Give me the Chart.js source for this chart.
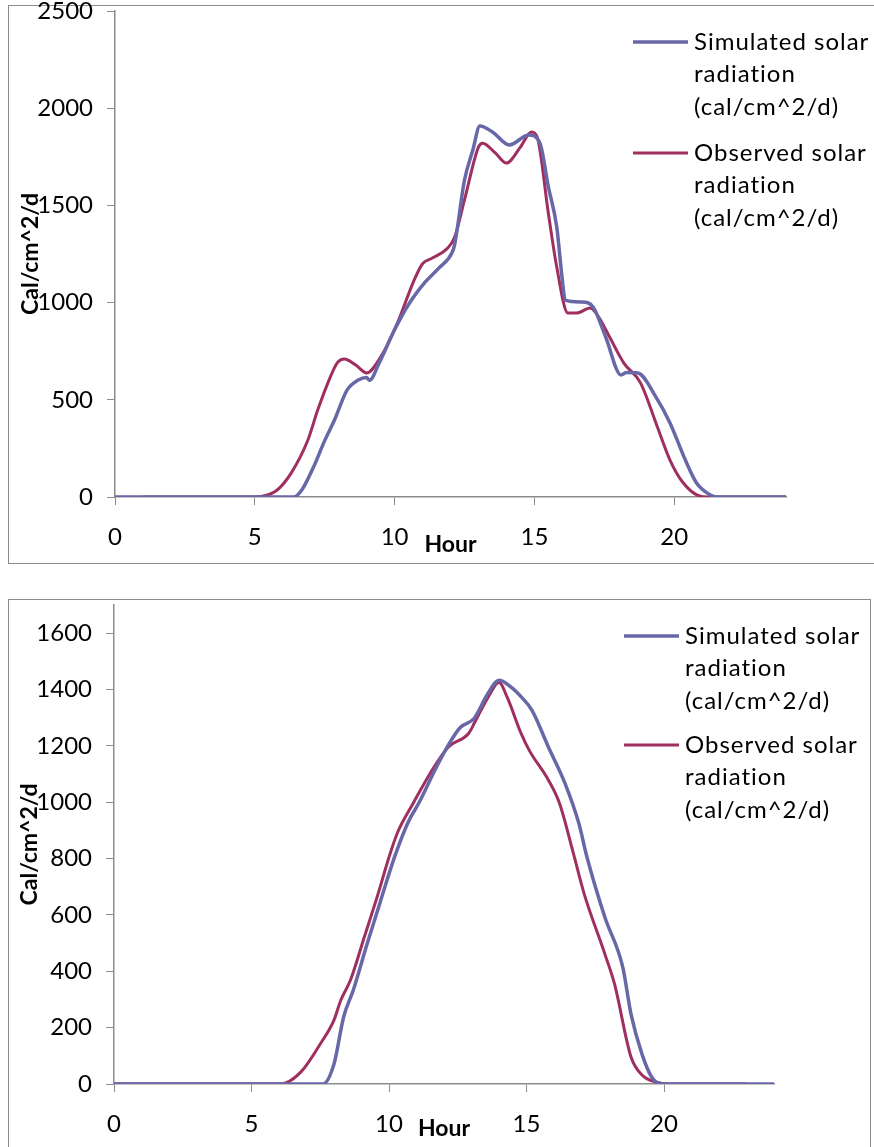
<!DOCTYPE html>
<html>
<head>
<meta charset="utf-8">
<script src="https://cdn.jsdelivr.net/npm/chart.js@4"></script>
<style>
    html, body { margin: 0; padding: 0; background: #fff; overflow: hidden; }
    body { width: 874px; height: 1147px; position: relative; }
    .frame { position: absolute; border: 1.5px solid #8c8c8c; box-sizing: border-box; }
    canvas { position: absolute; left: 0; }
</style>
</head>
<body>
<div class="frame" style="left:8px; top:5px; width:880px; height:559px;"></div>
<div class="frame" style="left:8px; top:599px; width:863px; height:600px;"></div>
<canvas id="topChart" width="874" height="570" style="top:0"></canvas>
<canvas id="bottomChart" width="874" height="577" style="top:570px"></canvas>
<script>
// ---- data ----
const hourTicks = [0, 5, 10, 15, 20];

// top chart
const topSimHours = [0, 6.4, 6.7, 7.1, 7.5, 7.85, 8.3, 8.7, 9.0, 9.1, 9.45, 10.0, 10.5, 11.1, 11.6, 12.05, 12.15, 12.5, 12.8, 13.05, 13.5, 14.1, 14.8, 15.2, 15.5, 15.8, 16.0, 16.1, 16.7, 17.1, 17.55, 18.1, 18.3, 18.7, 19.35, 19.85, 20.4, 20.8, 21.3, 21.5, 24];
const topSimValues = [0, 0, 40, 154, 290, 396, 550, 602, 615, 600, 690, 860, 990, 1106, 1180, 1255, 1300, 1630, 1785, 1908, 1878, 1811, 1862, 1820, 1595, 1389, 1116, 1013, 1003, 977, 823, 628, 640, 638, 514, 381, 190, 72, 10, 0, 0];
const topObsHours = [1, 5.0, 5.4, 5.8, 6.3, 6.9, 7.25, 7.7, 7.95, 8.2, 8.6, 9.0, 9.5, 10.1, 10.7, 11.0, 11.35, 11.9, 12.15, 12.5, 13.0, 13.15, 13.6, 14.0, 14.5, 14.9, 15.1, 15.5, 15.8, 16.2, 16.5, 17.0, 17.3, 17.7, 18.2, 18.8, 19.4, 19.85, 20.3, 20.9, 21.2, 24];
const topObsValues = [0, 0, 8, 36, 123, 293, 447, 617, 690, 710, 680, 638, 720, 895, 1116, 1200, 1229, 1281, 1337, 1528, 1800, 1820, 1770, 1718, 1800, 1878, 1852, 1460, 1183, 946, 946, 972, 926, 820, 689, 586, 360, 190, 77, 5, 0, 0];

// bottom chart
const botSimHours = [0, 7.6, 8.0, 8.35, 8.7, 9.2, 9.7, 10.2, 10.7, 11.1, 11.7, 12.2, 12.6, 13.1, 13.6, 14.0, 14.45, 14.8, 15.2, 15.8, 16.4, 16.9, 17.2, 17.85, 18.5, 18.8, 19.2, 19.55, 19.9, 24];
const botSimValues = [0, 0, 71, 238, 333, 496, 652, 805, 930, 1000, 1120, 1210, 1266, 1298, 1387, 1433, 1408, 1375, 1326, 1195, 1067, 926, 805, 592, 415, 248, 106, 25, 0, 0];
const botObsHours = [0, 6.05, 6.8, 7.5, 8.0, 8.25, 8.6, 9.1, 9.6, 10.0, 10.3, 10.9, 11.5, 12.15, 12.9, 13.1, 13.6, 14.0, 14.3, 14.8, 15.1, 15.8, 16.2, 16.7, 17.1, 17.85, 18.2, 18.8, 19.2, 19.7, 20.2, 23];
const botObsValues = [0, 0, 43, 142, 227, 298, 369, 521, 674, 805, 890, 1000, 1103, 1195, 1245, 1280, 1372, 1425, 1372, 1245, 1184, 1078, 996, 820, 674, 461, 355, 96, 32, 7, 0, 0];

const simLabel = ['Simulated solar', 'radiation', '(cal/cm^2/d)'];
const obsLabel = ['Observed solar', 'radiation', '(cal/cm^2/d)'];
const xTitle = 'Hour';
const yTitle = 'Cal/cm^2/d';

const SIM_COLOR = '#6868a8';
const OBS_COLOR = '#9e2f5f';
const AXIS_COLOR = '#8c8c8c';

Chart.defaults.font.family = 'Lato, "Open Sans", sans-serif';
Chart.defaults.color = '#000';

function toPoints(hours, values) {
    return hours.map((h, i) => ({ x: h, y: values[i] }));
}

// legend + axis titles drawn at fixed spots, like the Excel original
const extrasPlugin = {
    id: 'extras',
    afterDraw(chart, args, opts) {
        const ctx = chart.ctx;
        const area = chart.chartArea;
        ctx.save();

        ctx.font = '24px Lato';
        ctx.letterSpacing = '1px';
        ctx.textAlign = 'left';
        ctx.textBaseline = 'middle';
        chart.data.datasets.forEach((ds, i) => {
            const y0 = opts.legendY + i * opts.legendGap;
            ctx.strokeStyle = ds.borderColor;
            ctx.lineWidth = ds.borderWidth;
            ctx.beginPath();
            ctx.moveTo(opts.legendX, y0);
            ctx.lineTo(opts.legendX + 55, y0);
            ctx.stroke();
            ctx.fillStyle = '#000';
            ds.label.forEach((line, j) => {
                ctx.fillText(line, opts.legendX + 61, y0 + j * 32.5);
            });
        });

        ctx.letterSpacing = '0px';
        ctx.font = 'bold 23px Lato';
        ctx.textAlign = 'center';
        ctx.fillText(xTitle, (area.left + area.right) / 2, opts.xTitleY);

        ctx.translate(opts.yTitleX, (area.top + area.bottom) / 2);
        ctx.rotate(-Math.PI / 2);
        ctx.fillText(yTitle, 0, 0);
        ctx.restore();
    }
};

function makeChart(canvasId, sim, obs, cfg) {
    const ctx = document.getElementById(canvasId).getContext('2d');
    return new Chart(ctx, {
        type: 'line',
        data: {
            datasets: [{
                label: simLabel,
                data: sim,
                borderColor: SIM_COLOR,
                borderWidth: 3.5,
                pointRadius: 0,
                cubicInterpolationMode: 'monotone'
            }, {
                label: obsLabel,
                data: obs,
                borderColor: OBS_COLOR,
                borderWidth: 3,
                pointRadius: 0,
                cubicInterpolationMode: 'monotone'
            }]
        },
        options: {
            responsive: false,
            animation: false,
            layout: { padding: cfg.padding },
            plugins: {
                legend: { display: false },
                tooltip: { enabled: false },
                extras: cfg.extras
            },
            scales: {
                x: {
                    type: 'linear',
                    min: 0,
                    max: 24,
                    afterFit: (scale) => {
                        scale.height = 60;
                        scale.paddingLeft = 0;
                        scale.paddingRight = 0;
                    },
                    afterBuildTicks: (scale) => {
                        scale.ticks = hourTicks.map(v => ({ value: v }));
                    },
                    grid: { drawOnChartArea: false, tickLength: 8, color: AXIS_COLOR },
                    border: { color: AXIS_COLOR, width: 1.5 },
                    ticks: { font: { size: 24 }, padding: 18, maxRotation: 0, callback: (v) => String(v) }
                },
                y: {
                    min: 0,
                    max: cfg.yMax,
                    afterFit: (scale) => {
                        // fixed width, and no extra room for the top label
                        scale.width = cfg.yWidth;
                        scale.paddingTop = 0;
                        scale.paddingBottom = 0;
                    },
                    grid: { drawOnChartArea: false, tickLength: 8, color: AXIS_COLOR },
                    border: { color: AXIS_COLOR, width: 1.5 },
                    ticks: { stepSize: cfg.yStep, includeBounds: false, font: { size: 24 }, padding: 14, callback: (v) => String(v) }
                }
            }
        },
        plugins: [extrasPlugin]
    });
}

document.addEventListener('DOMContentLoaded', function () {

    // top chart: plot area 115..786 x 11..497
    makeChart('topChart',
        toPoints(topSimHours, topSimValues),
        toPoints(topObsHours, topObsValues),
        {
            yMax: 2500, yStep: 500, yWidth: 115,
            padding: { top: 11, right: 88, bottom: 13, left: 0 },
            extras: { legendX: 633, legendY: 42, legendGap: 111, xTitleY: 545, yTitleX: 31 }
        });

    // bottom chart: plot area 114..774 x 605..1084 (page coords)
    makeChart('bottomChart',
        toPoints(botSimHours, botSimValues),
        toPoints(botObsHours, botObsValues),
        {
            yMax: 1700, yStep: 200, yWidth: 114,
            padding: { top: 35, right: 100, bottom: 3, left: 0 },
            extras: { legendX: 624, legendY: 66, legendGap: 109, xTitleY: 559, yTitleX: 30 }
        });
});
</script>
</body>
</html>
